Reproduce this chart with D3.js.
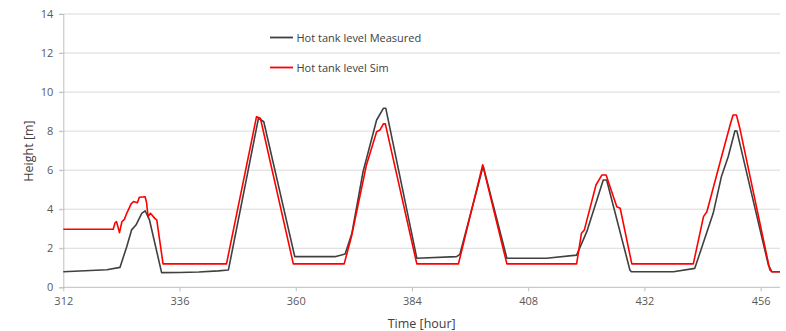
<!DOCTYPE html>
<html><head><meta charset="utf-8">
<script src="https://cdn.jsdelivr.net/npm/d3@7"></script>
<style>body{margin:0;background:#fff;} svg{display:block;font-family:"Open Sans","Liberation Sans",sans-serif;}</style>
</head><body>
<svg id="chart" width="786" height="331"></svg>
<script>
const xTicks = [312, 336, 360, 384, 408, 432, 456];
const yTicks = [0, 2, 4, 6, 8, 10, 12, 14];
const seriesNames = ["Hot tank level Measured", "Hot tank level Sim"];
const measuredHours = [312, 321, 323.7, 325.1, 326.1, 327, 328.2, 328.9, 329.8, 332.3, 336, 340, 344, 346.1,
  352.3, 353.4, 359.8, 368.1, 370.2, 371.6, 373.9, 376.7, 378.1, 378.6, 385,
  393.2, 393.9, 398.7, 403.6, 411.8, 418, 420.1, 423.5, 424.2, 429, 429.3,
  438, 442.4, 446.2, 447.9, 449.3, 450.7, 451.1, 457.6, 458.3, 460];
const measuredValues = [0.8, 0.9, 1.02, 2.08, 2.94, 3.19, 3.79, 3.92, 3.45, 0.75, 0.76, 0.78, 0.84, 0.89,
  8.66, 8.48, 1.57, 1.57, 1.71, 2.77, 5.92, 8.57, 9.17, 9.17, 1.49,
  1.57, 1.69, 6.21, 1.49, 1.49, 1.65, 2.85, 5.5, 5.5, 0.89, 0.8,
  0.8, 0.97, 3.79, 5.67, 6.69, 8.02, 8.0, 1.14, 0.8, 0.8];
const simHours = [312, 322.3, 322.7, 323, 323.6, 324.1, 324.6, 325.1, 326, 326.5, 327.3, 327.7, 328.9, 329.2, 329.5, 330, 330.9, 331.3, 332.6,
  345.7, 351.9, 352.7, 359.5, 370, 371.5, 374.6, 376.7, 377.4, 378.1, 378.5, 385,
  393.6, 398.6, 403.6, 418, 419, 419.6, 422, 423.2, 424.1, 424.9, 426.3, 427, 429.4,
  442.1, 444.2, 444.9, 448.3, 449.7, 450.3, 451, 451.7, 457.9, 458.3, 460];
const simValues = [2.97, 2.97, 3.31, 3.36, 2.8, 3.36, 3.48, 3.79, 4.27, 4.39, 4.33, 4.61, 4.64, 4.33, 3.62, 3.79, 3.53, 3.45, 1.2,
  1.2, 8.74, 8.66, 1.2, 1.2, 2.59, 6.27, 7.97, 8.06, 8.37, 8.37, 1.2,
  1.2, 6.27, 1.2, 1.2, 2.77, 2.94, 5.24, 5.75, 5.75, 5.15, 4.13, 4.05, 1.2,
  1.2, 3.62, 3.87, 7.03, 8.31, 8.83, 8.83, 8.15, 0.89, 0.8, 0.8];

const svg = d3.select("#chart");
const x = d3.scaleLinear().domain([312, 460]).range([63.3, 780]);
const y = d3.scaleLinear().domain([0, 14]).range([287.3, 14]);

// gridlines
svg.append("g").selectAll("line").data(yTicks.filter(d => d > 0)).join("line")
  .attr("x1", 59).attr("x2", 780)
  .attr("y1", d => y(d)).attr("y2", d => y(d))
  .attr("stroke", "#d9d9d9").attr("stroke-width", 1);

// y axis
const yAxis = svg.append("g").attr("transform", "translate(63.3,0)")
  .call(d3.axisLeft(y).tickValues(yTicks).tickSize(4).tickPadding(6));
yAxis.select(".domain").attr("stroke", "#bfbfbf");
yAxis.selectAll(".tick line").attr("stroke", "#bfbfbf");
yAxis.selectAll("text").attr("fill", "#595959").style("font-size", "11px").style("font-family", "'Open Sans','Liberation Sans',sans-serif");

// x axis
const xAxis = svg.append("g").attr("transform", "translate(0,287.3)")
  .call(d3.axisBottom(x).tickValues(xTicks).tickSize(4).tickPadding(6).tickFormat(d3.format("d")));
xAxis.select(".domain").attr("stroke", "#bfbfbf").attr("d", "M63.3,0H780");
xAxis.selectAll(".tick line").attr("stroke", "#bfbfbf");
xAxis.selectAll("text").attr("fill", "#595959").style("font-size", "11px").style("font-family", "'Open Sans','Liberation Sans',sans-serif");

// axis titles
svg.append("text").attr("x", 421.7).attr("y", 327.5).attr("text-anchor", "middle")
  .attr("fill", "#404040").style("font-size", "12.5px").text("Time [hour]");
svg.append("text").attr("transform", "translate(33,151) rotate(-90)").attr("text-anchor", "middle")
  .attr("fill", "#404040").style("font-size", "12.5px").text("Height [m]");

const line = d3.line().x(d => x(d[0])).y(d => y(d[1]));
const measured = measuredHours.map((h, i) => [h, measuredValues[i]]);
const sim = simHours.map((h, i) => [h, simValues[i]]);
const colors = ["#404040", "#ff0000"];

svg.append("path").datum(measured).attr("d", line).attr("fill", "none")
  .attr("stroke", colors[0]).attr("stroke-width", 1.6).attr("stroke-linejoin", "round");
svg.append("path").datum(sim).attr("d", line).attr("fill", "none")
  .attr("stroke", colors[1]).attr("stroke-width", 1.6).attr("stroke-linejoin", "round");

// legend
const legY = [37.5, 67.5];
seriesNames.forEach((name, i) => {
  svg.append("line").attr("x1", 270).attr("x2", 293).attr("y1", legY[i]).attr("y2", legY[i])
    .attr("stroke", colors[i]).attr("stroke-width", 1.8);
  svg.append("text").attr("x", 296.5).attr("y", legY[i] + 4).attr("fill", "#404040")
    .style("font-size", "11px").text(name);
});
</script>
</body></html>
